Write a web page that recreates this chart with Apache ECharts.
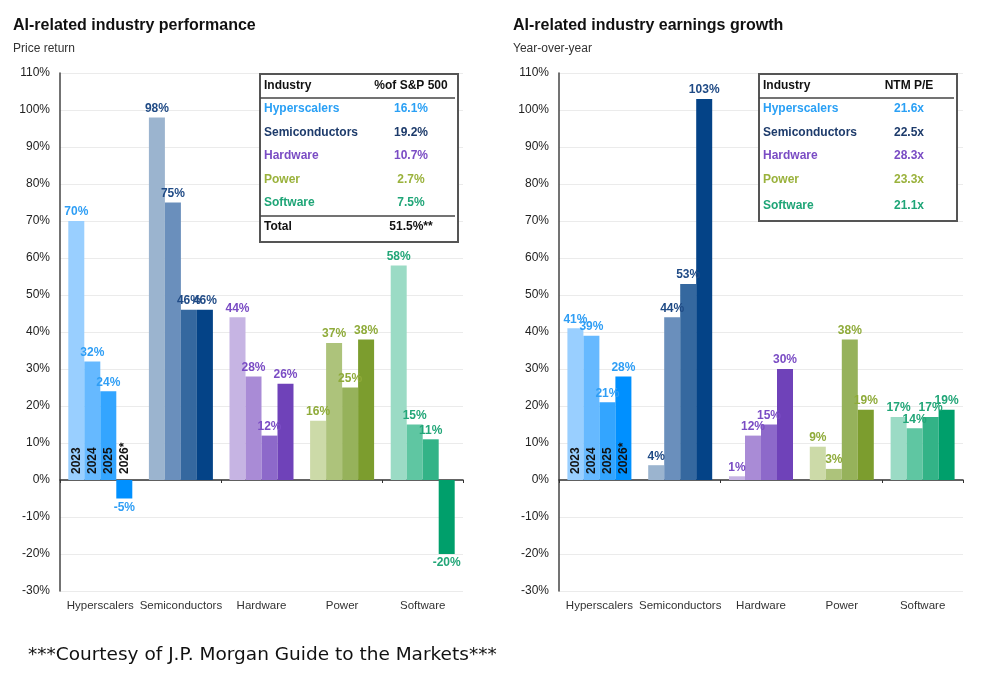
<!DOCTYPE html>
<html>
<head>
<meta charset="utf-8">
<script src="https://cdn.jsdelivr.net/npm/echarts@6/dist/echarts.min.js"></script>
<style>
  html, body { margin: 0; padding: 0; background: #fff; }
  #chart { width: 991px; height: 680px; }
</style>
</head>
<body>
<div id="chart"></div>
<script>
// categories and years
var categories = ['Hyperscalers', 'Semiconductors', 'Hardware', 'Power', 'Software'];
var years = ['2023', '2024', '2025', '2026*'];

// price return (%), one array per year, in category order
var price2023 = [70, 98, 44, 16, 58];
var price2024 = [32, 75, 28, 37, 15];
var price2025 = [24, 46, 12, 25, 11];
var price2026 = [-5, 46, 26, 38, -20];

// earnings growth y/y (%)
var earn2023 = [41, 4, 1, 9, 17];
var earn2024 = [39, 44, 12, 3, 14];
var earn2025 = [21, 53, 15, 38, 17];
var earn2026 = [28, 103, 30, 19, 19];

// table contents
var spWeights = ['16.1%', '19.2%', '10.7%', '2.7%', '7.5%'];
var spTotal = '51.5%**';
var ntmPE = ['21.6x', '22.5x', '28.3x', '23.3x', '21.1x'];

// colours: per category, light -> dark for 2023..2026
var barColors = [
    ['#99cfff', '#66b9ff', '#33a5ff', '#0090ff'],
    ['#9bb4cf', '#6a8fbc', '#35689f', '#044387'],
    ['#c6b4e3', '#a98bd6', '#8d69ca', '#6f42b9'],
    ['#ccdaa8', '#adc37b', '#96b25b', '#7c9d2e'],
    ['#9bdbc5', '#5fc6a2', '#33b387', '#009f6b']
];
var labelColors = ['#2f9ef5', '#1f4a85', '#7a4cc4', '#8fab3a', '#22a678'];
var tableColors = ['#2aa0f5', '#1d3b6b', '#7a4cc4', '#9ab23c', '#1fa577'];

var chart = echarts.init(document.getElementById('chart'));

function buildSeries(gi, yearData) {
    var out = [];
    yearData.forEach(function (vals, y) {
        var stack = 'g' + gi + 'y' + y;
        // invisible zero bar that carries the year tag inside the first group
        out.push({
            type: 'bar',
            xAxisIndex: gi * 2,
            yAxisIndex: gi,
            stack: stack,
            barWidth: 16,
            barGap: '0%',
            silent: true,
            itemStyle: { color: 'rgba(0,0,0,0)' },
            label: {
                show: true,
                position: 'insideBottom',
                distance: 6,
                rotate: 90,
                align: 'left',
                verticalAlign: 'middle',
                formatter: years[y],
                color: '#111',
                fontWeight: 'bold',
                fontSize: 12,
                fontFamily: 'Liberation Sans'
            },
            data: categories.map(function (c, i) { return i === 0 ? 0 : '-'; })
        });
        out.push({
            type: 'bar',
            name: years[y],
            xAxisIndex: gi * 2,
            yAxisIndex: gi,
            stack: stack,
            barWidth: 16,
            barGap: '0%',
            data: vals.map(function (v, i) {
                return {
                    value: v,
                    itemStyle: { color: barColors[i][y] },
                    label: { position: v < 0 ? 'bottom' : 'top', color: labelColors[i] }
                };
            }),
            label: {
                show: true,
                distance: 3,
                formatter: '{c}%',
                fontSize: 12,
                fontWeight: 'bold',
                fontFamily: 'Liberation Sans'
            }
        });
    });
    return out;
}

function xAxes(gi) {
    return [{
        gridIndex: gi,
        type: 'category',
        data: categories,
        position: 'bottom',
        axisLine: { onZero: true, lineStyle: { color: '#333', width: 1.5 } },
        axisTick: { show: true, length: 3, lineStyle: { color: '#333' } },
        axisLabel: { show: false },
        splitLine: { show: false }
    }, {
        gridIndex: gi,
        type: 'category',
        data: categories,
        position: 'bottom',
        axisLine: { show: false, onZero: false },
        axisTick: { show: false },
        axisLabel: { interval: 0, color: '#333', fontSize: 11.5, margin: 9, fontFamily: 'Liberation Sans' }
    }];
}

function yAxis(gi) {
    return {
        gridIndex: gi,
        type: 'value',
        min: -30,
        max: 110,
        interval: 10,
        axisLine: { show: true, lineStyle: { color: '#444', width: 1.5 } },
        axisTick: { show: false },
        axisLabel: { formatter: '{value}%', color: '#222', fontSize: 12, margin: 10, fontFamily: 'Liberation Sans' },
        splitLine: { lineStyle: { color: '#ebebeb' } }
    };
}

// table drawn with graphic elements
function makeTable(x, y, w, h, rightHead, values, total, colX) {
    var els = [];
    els.push({ type: 'rect', shape: { x: x, y: y, width: w, height: h },
        style: { fill: '#fff', stroke: '#555', lineWidth: 2 }, z: 10 });
    els.push({ type: 'line', shape: { x1: x, y1: y + 24, x2: x + w - 3, y2: y + 24 },
        style: { stroke: '#444', lineWidth: 1.5 }, z: 11 });
    var head = { fontSize: 12, fontWeight: 'bold', fill: '#111', fontFamily: 'Liberation Sans', verticalAlign: 'middle' };
    els.push({ type: 'text', x: x + 4, y: y + 12, style: Object.assign({ text: 'Industry', align: 'left' }, head), z: 12 });
    els.push({ type: 'text', x: colX, y: y + 12, style: Object.assign({ text: rightHead, align: 'center' }, head), z: 12 });
    var rowY = total ? [35, 59, 82, 106, 129] : [35, 59, 82, 106, 132];
    categories.forEach(function (c, i) {
        var st = { fontSize: 12, fontWeight: 'bold', fill: tableColors[i], fontFamily: 'Liberation Sans', verticalAlign: 'middle' };
        els.push({ type: 'text', x: x + 4, y: y + rowY[i], style: Object.assign({ text: c, align: 'left' }, st), z: 12 });
        els.push({ type: 'text', x: colX, y: y + rowY[i], style: Object.assign({ text: values[i], align: 'center' }, st), z: 12 });
    });
    if (total) {
        els.push({ type: 'line', shape: { x1: x, y1: y + 142, x2: x + w - 3, y2: y + 142 },
            style: { stroke: '#444', lineWidth: 1.5 }, z: 11 });
        els.push({ type: 'text', x: x + 4, y: y + 153, style: Object.assign({ text: 'Total', align: 'left' }, head), z: 12 });
        els.push({ type: 'text', x: colX, y: y + 153, style: Object.assign({ text: total, align: 'center' }, head), z: 12 });
    }
    return els;
}

var titleStyle = { fontSize: 16, fontWeight: 'bold', color: '#111', fontFamily: 'Liberation Sans' };
var subStyle = { fontSize: 12, color: '#333', fontFamily: 'Liberation Sans' };

var option = {
    animation: false,
    backgroundColor: '#fff',
    title: [
        { text: 'AI-related industry performance', subtext: 'Price return', left: 8, top: 13,
          itemGap: 9, textStyle: titleStyle, subtextStyle: subStyle },
        { text: 'AI-related industry earnings growth', subtext: 'Year-over-year', left: 508, top: 13,
          itemGap: 9, textStyle: titleStyle, subtextStyle: subStyle }
    ],
    grid: [
        { left: 60, right: 528, top: 73, bottom: 89 },
        { left: 559, right: 28, top: 73, bottom: 89 }
    ],
    xAxis: xAxes(0).concat(xAxes(1)),
    yAxis: [yAxis(0), yAxis(1)],
    series: buildSeries(0, [price2023, price2024, price2025, price2026])
        .concat(buildSeries(1, [earn2023, earn2024, earn2025, earn2026])),
    graphic: makeTable(260, 74, 198, 168, '%of S&P 500', spWeights, spTotal, 411)
        .concat(makeTable(759, 74, 198, 147, 'NTM P/E', ntmPE, null, 909))
        .concat([{
            type: 'text', x: 28, y: 655,
            style: { text: '***Courtesy of J.P. Morgan Guide to the Markets***', fontSize: 18.5,
                     fontFamily: 'DejaVu Sans', fill: '#111', verticalAlign: 'middle' }
        }])
};

chart.setOption(option);
</script>
</body>
</html>
